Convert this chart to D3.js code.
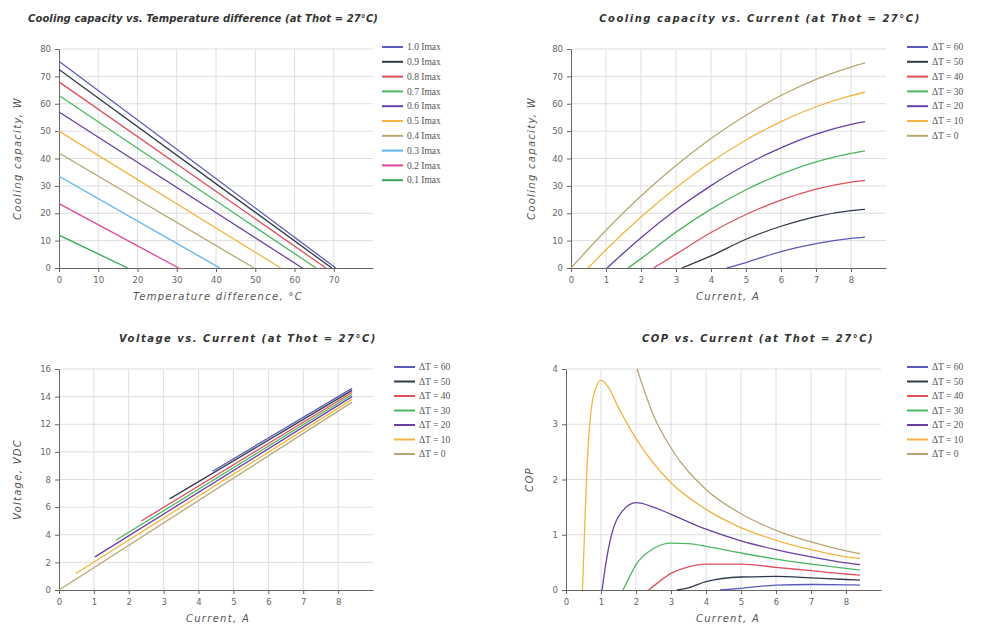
<!DOCTYPE html>
<meta charset="utf-8">
<style>
  body, html { margin:0; padding:0; background:#fff; }
  svg { display:block; }
  .title { font: italic bold 10px "DejaVu Sans", sans-serif; fill:#333; letter-spacing:1.5px; }
  .axtitle { font: italic 10px "DejaVu Sans", sans-serif; fill:#555; letter-spacing:1.3px; }
  .tick text { font: 8.5px "DejaVu Sans", sans-serif; fill:#666; }
  .axis path, .axis line { stroke:#666; }
  .grid line { stroke:#dedede; }
  .legend text { font: 9.5px "Liberation Serif", serif; fill:#555; }
</style>
<body>
<svg width="981" height="631"></svg>
<script src="https://cdn.jsdelivr.net/npm/d3@7"></script>
<script>
// ---- data ----
var imaxLabels = ["1.0 Imax","0.9 Imax","0.8 Imax","0.7 Imax","0.6 Imax","0.5 Imax","0.4 Imax","0.3 Imax","0.2 Imax","0.1 Imax"];
var imaxColors = ["#5b5bbd","#2f3a4c","#e0505c","#4cb862","#6a3fa3","#f4b443","#b9a672","#5ab4f0","#e0449c","#33a553"];
// cooling capacity at dT = 0, and dT where capacity drops to 0
var qAtZeroDt = [75.5, 72.5, 68, 63, 57, 50, 42, 33.5, 23.5, 12];
var dtAtZeroQ = [70.5, 69.5, 68, 65.5, 62, 56.5, 49.7, 41, 30.5, 17.5];

var dtLabels = ["\u0394T = 60","\u0394T = 50","\u0394T = 40","\u0394T = 30","\u0394T = 20","\u0394T = 10","\u0394T = 0"];
var dtColors = ["#5b5bbd","#2f3a4c","#e0505c","#4cb862","#6a3fa3","#f4b443","#b9a672"];

// [current A, cooling capacity W]
var qcVsCurrent = [
  [[4.45,0],[5,2.0],[6,6.0],[7,8.9],[8,10.8],[8.4,11.3]],
  [[3.17,0],[4,4.4],[5,10.5],[6,15.25],[7,18.8],[8,20.95],[8.4,21.4]],
  [[2.36,0],[3,5.05],[4,12.96],[5,19.55],[6,24.8],[7,28.8],[8,31.4],[8.4,32]],
  [[1.63,0],[2,3.43],[3,13.1],[4,21.5],[5,28.6],[6,34.3],[7,38.8],[8,41.9],[8.4,42.8]],
  [[1.03,0],[1.5,5.47],[2,11.06],[3,21.26],[4,30.1],[5,37.7],[6,43.9],[7,48.9],[8,52.5],[8.4,53.5]],
  [[0.49,0],[1,6.67],[2,18.67],[3,29.35],[4,38.7],[5,46.75],[6,53.5],[7,58.9],[8,62.95],[8.4,64.2]],
  [[0,0],[1,13.8],[2,26.3],[3,37.4],[4,47.3],[5,55.8],[6,63],[7,68.9],[8,73.4],[8.4,74.9]]
];

// [current A, voltage VDC] - straight lines
var voltVsCurrent = [
  [[4.4,8.6],[8.4,14.6]],
  [[3.17,6.6],[8.4,14.45]],
  [[2.36,5.0],[8.4,14.3]],
  [[1.63,3.6],[8.4,14.15]],
  [[1.03,2.4],[8.4,14.0]],
  [[0.48,1.2],[8.4,13.8]],
  [[0,0],[8.4,13.6]]
];

// [current A, COP]
var copVsCurrent = [
  [[4.4,0],[5,0.03],[6,0.09],[7,0.1],[8,0.094],[8.4,0.09]],
  [[3.17,0],[3.5,0.04],[4,0.15],[5,0.235],[6,0.245],[7,0.22],[8,0.19],[8.4,0.18]],
  [[2.36,0],[2.6,0.12],[3,0.3],[3.5,0.42],[4,0.47],[5,0.47],[6,0.41],[7,0.35],[8,0.29],[8.4,0.27]],
  [[1.63,0],[1.8,0.22],[2,0.46],[2.5,0.75],[3,0.85],[3.5,0.84],[4,0.79],[5,0.67],[6,0.56],[7,0.47],[8,0.39],[8.4,0.36]],
  [[1.03,0],[1.1,0.32],[1.25,0.86],[1.5,1.33],[2,1.58],[2.5,1.5],[3,1.37],[4,1.1],[5,0.89],[6,0.73],[7,0.6],[8,0.49],[8.4,0.46]],
  [[0.47,0],[0.55,1.4],[0.6,2.2],[0.7,3.15],[0.8,3.55],[1.0,3.8],[1.2,3.68],[1.5,3.3],[2,2.74],[3,1.94],[4,1.46],[5,1.13],[6,0.9],[7,0.73],[8,0.6],[8.4,0.57]],
  [[2.03,4.0],[2.5,3.16],[3,2.57],[4,1.82],[5,1.38],[6,1.08],[7,0.87],[8,0.71],[8.4,0.66]]
];

var svg = d3.select("svg");

function panel(o) {
  var x = d3.scaleLinear().domain(o.xDomain).range([o.left, o.right]);
  var y = d3.scaleLinear().domain(o.yDomain).range([o.bottom, o.top]);
  var g = svg.append("g");

  // grid
  g.append("g").attr("class", "grid").selectAll("line.v")
    .data(o.xTicks.slice(1)).enter().append("line")
    .attr("x1", d => x(d)).attr("x2", d => x(d))
    .attr("y1", o.top).attr("y2", o.bottom);
  g.append("g").attr("class", "grid").selectAll("line.h")
    .data(o.yTicks.slice(1)).enter().append("line")
    .attr("x1", o.left).attr("x2", o.right)
    .attr("y1", d => y(d)).attr("y2", d => y(d));

  g.append("g").attr("class", "axis")
    .attr("transform", "translate(0," + o.bottom + ")")
    .call(d3.axisBottom(x).tickValues(o.xTicks).tickFormat(d3.format("d")).tickSize(4).tickSizeOuter(0).tickPadding(5));
  g.append("g").attr("class", "axis")
    .attr("transform", "translate(" + o.left + ",0)")
    .call(d3.axisLeft(y).tickValues(o.yTicks).tickFormat(d3.format("d")).tickSize(4).tickSizeOuter(0).tickPadding(4));

  var line = d3.line().x(d => x(d[0])).y(d => y(d[1])).curve(o.curve || d3.curveLinear);
  g.append("g").selectAll("path.s")
    .data(o.series).enter().append("path")
    .attr("fill", "none")
    .attr("stroke", (d, i) => o.colors[i])
    .attr("stroke-width", 1.3)
    .attr("d", line);

  // titles
  svg.append("text").attr("class", "title")
    .attr("x", o.titleX).attr("y", o.top - 27)
    .attr("text-anchor", "middle")
    .style("letter-spacing", o.titleSpacing)
    .text(o.title);
  svg.append("text").attr("class", "axtitle")
    .attr("x", o.xTitleX).attr("y", o.bottom + 32)
    .attr("text-anchor", "middle").text(o.xTitle);
  svg.append("text").attr("class", "axtitle")
    .attr("transform", "translate(" + o.yTitleX + "," + ((o.top + o.bottom) / 2) + ") rotate(-90)")
    .attr("text-anchor", "middle").text(o.yTitle);

  // legend
  var lg = svg.append("g").attr("class", "legend")
    .selectAll("g").data(o.labels).enter().append("g")
    .attr("transform", (d, i) => "translate(" + o.legendX + "," + (o.top - 2 + i * o.legendStep) + ")");
  lg.append("line").attr("x1", 0).attr("x2", 21)
    .attr("stroke", (d, i) => o.colors[i]).attr("stroke-width", 2);
  lg.append("text").attr("x", 25).attr("dy", "0.33em").text(d => d);
}

var imaxSeries = qAtZeroDt.map((q, i) => [[0, q], [dtAtZeroQ[i], 0]]);

panel({
  left: 59, right: 373, top: 49, bottom: 268,
  xDomain: [0, 80], yDomain: [0, 80],
  xTicks: d3.range(0, 71, 10), yTicks: d3.range(0, 81, 10),
  series: imaxSeries, colors: imaxColors, labels: imaxLabels,
  title: "Cooling capacity vs. Temperature difference (at Thot = 27\u00b0C)", titleX: 203, titleSpacing: "0.1px",
  xTitle: "Temperature difference, \u00b0C", xTitleX: 218,
  yTitle: "Cooling capacity, W", yTitleX: 21,
  legendX: 382, legendStep: 14.8
});

panel({
  left: 571, right: 886, top: 49, bottom: 268,
  xDomain: [0, 9], yDomain: [0, 80],
  xTicks: d3.range(0, 9), yTicks: d3.range(0, 81, 10),
  series: qcVsCurrent, colors: dtColors, labels: dtLabels, curve: d3.curveMonotoneX,
  title: "Cooling capacity vs. Current (at Thot = 27\u00b0C)", titleX: 760,
  xTitle: "Current, A", xTitleX: 728,
  yTitle: "Cooling capacity, W", yTitleX: 535,
  legendX: 907, legendStep: 14.8
});

panel({
  left: 59, right: 373, top: 369, bottom: 590,
  xDomain: [0, 9], yDomain: [0, 16],
  xTicks: d3.range(0, 9), yTicks: d3.range(0, 17, 2),
  series: voltVsCurrent, colors: dtColors, labels: dtLabels,
  title: "Voltage vs. Current (at Thot = 27\u00b0C)", titleX: 248,
  xTitle: "Current, A", xTitleX: 218,
  yTitle: "Voltage, VDC", yTitleX: 21,
  legendX: 394, legendStep: 14.5
});

panel({
  left: 566, right: 881, top: 369, bottom: 590,
  xDomain: [0, 9], yDomain: [0, 4],
  xTicks: d3.range(0, 9), yTicks: d3.range(0, 5),
  series: copVsCurrent, colors: dtColors, labels: dtLabels, curve: d3.curveMonotoneX,
  title: "COP vs. Current (at Thot = 27\u00b0C)", titleX: 758,
  xTitle: "Current, A", xTitleX: 728,
  yTitle: "COP", yTitleX: 533,
  legendX: 907, legendStep: 14.5
});
</script>
</body>
